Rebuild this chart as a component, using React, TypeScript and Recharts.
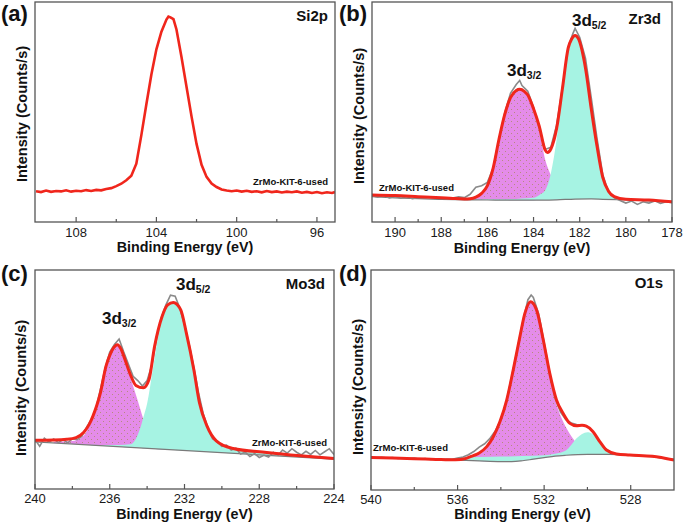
import React from "react";
import { Area, ComposedChart, Line, XAxis, YAxis } from "recharts";

const W = 685;
const H = 526;
const FONT = '"Liberation Sans", Arial, sans-serif';
const RED = "#f0261c";
const GREY = "#8a8a8a";
const BG_LINE = "#7a7a7a";
const PINK = "#e48ce9";
const DOT = "#a98a5e";
const CYAN = "#a6f3e3";
const FRAME = "#555";

type Pt = [number, number];
type Band = [number, number, number]; // energy, background, component top

// (a) Si2p
const SI_RAW: Pt[] = [
  [110.0, 14.0], [109.75, 13.6], [109.5, 14.3], [109.25, 13.7], [109.0, 14.1], [108.75, 13.9],
  [108.5, 14.4], [108.25, 13.8], [108.0, 14.2], [107.75, 14.0], [107.5, 14.5], [107.25, 14.1],
  [107.0, 14.6], [106.75, 14.4], [106.5, 15.0], [106.25, 15.4], [106.0, 16.3], [105.75, 17.4],
  [105.5, 19.0], [105.25, 21.0], [105.0, 26.5], [104.75, 39.5], [104.5, 53.5], [104.25, 67.0],
  [104.0, 78.5], [103.75, 86.5], [103.5, 92.0], [103.4, 93.4], [103.3, 93.0], [103.15, 92.2],
  [103.0, 87.5], [102.75, 75.0], [102.5, 61.5], [102.25, 48.0], [102.0, 35.5], [101.75, 26.0],
  [101.5, 20.5], [101.25, 17.5], [101.0, 15.9], [100.75, 14.8], [100.5, 14.3], [100.25, 14.0],
  [100.0, 14.3], [99.75, 13.8], [99.5, 14.2], [99.25, 13.7], [99.0, 14.0], [98.75, 13.5],
  [98.5, 14.1], [98.25, 13.6], [98.0, 13.9], [97.75, 13.4], [97.5, 13.8], [97.25, 13.5],
  [97.0, 13.9], [96.75, 13.3], [96.5, 13.7], [96.25, 13.2], [96.0, 13.6], [95.75, 13.1],
  [95.5, 13.5], [95.25, 13.2], [95.1, 13.6],
];

// (b) Zr3d
const ZR_RAW: Pt[] = [
  [191.0, 12.0], [190.75, 11.3], [190.5, 12.1], [190.25, 11.0], [190.0, 11.6], [189.75, 10.8],
  [189.5, 11.5], [189.25, 10.6], [189.0, 11.2], [188.75, 10.9], [188.5, 11.4], [188.25, 10.7],
  [188.0, 11.0], [187.75, 10.5], [187.5, 10.9], [187.25, 11.4], [187.0, 11.1], [186.75, 12.6],
  [186.5, 15.8], [186.25, 16.5], [186.0, 18.0], [185.75, 24.5], [185.5, 37.5], [185.25, 49.5],
  [185.0, 58.5], [184.75, 62.5], [184.6, 64.3], [184.5, 62.0], [184.25, 59.5], [184.0, 52.0],
  [183.75, 42.5], [183.5, 33.0], [183.25, 34.0], [183.0, 44.0], [182.75, 61.0], [182.5, 79.5],
  [182.3, 85.5], [182.2, 88.0], [182.0, 84.0], [181.75, 74.5], [181.5, 56.5], [181.25, 38.0],
  [181.0, 21.5], [180.75, 13.5], [180.5, 11.0], [180.25, 9.8], [180.0, 8.6], [179.75, 9.5],
  [179.5, 8.0], [179.25, 9.2], [179.0, 8.6], [178.75, 9.6], [178.5, 8.5], [178.25, 9.2], [178.0, 8.8],
];
const ZR_FIT: Pt[] = [
  [191, 12.3], [190, 12.0], [189, 11.5], [188, 11.0], [187.5, 10.7], [187, 10.5], [186.75, 10.6],
  [186.5, 11.3], [186.25, 13.0], [186, 16.5], [185.75, 24.5], [185.5, 37.5], [185.25, 48.8],
  [185, 56.5], [184.75, 59.8], [184.6, 60.3], [184.4, 59.4], [184.25, 57.7], [184, 51.5],
  [183.75, 43.5], [183.5, 32.8], [183.4, 31.6], [183.25, 33.2], [183, 42.5], [182.75, 60.5],
  [182.5, 79.0], [182.35, 83.2], [182.2, 84.8], [182.05, 83.2], [181.75, 70.0], [181.5, 51.5],
  [181.25, 34.5], [181, 20.3], [180.75, 14.0], [180.5, 11.5], [180, 10.3], [179, 10.0], [178, 9.2],
];
const ZR_BG: Pt[] = [
  [191, 11.5], [190, 11.0], [189, 10.6], [188, 10.3], [187, 10.1], [186, 10.0], [185, 9.9],
  [184, 9.9], [183, 10.1], [182.2, 10.4], [181.5, 10.5], [181, 10.3], [180, 10.0], [179, 9.6], [178, 9.2],
];
const ZR_32: Band[] = [
  [187.5, 10.2, 10.2], [187, 10.1, 10.4], [186.5, 10.0, 11.2], [186.25, 10.0, 13.0], [186, 10.0, 16.5],
  [185.75, 10.0, 24.0], [185.5, 10.0, 37.0], [185.25, 10.0, 48.5], [185, 9.9, 56.3], [184.75, 9.9, 59.6],
  [184.6, 9.9, 60.1], [184.4, 9.9, 59.0], [184.25, 9.9, 57.0], [184, 9.9, 50.4], [183.75, 10.0, 41.2],
  [183.5, 10.0, 28.5], [183.25, 10.0, 21.2], [183, 10.1, 15.1], [182.75, 10.2, 12.0], [182.5, 10.3, 10.8],
  [182, 10.4, 10.4],
];
const ZR_52: Band[] = [
  [187.5, 10.2, 10.2], [186, 10.0, 10.3], [185, 9.9, 10.4], [184.5, 9.9, 10.7], [184, 9.9, 11.0],
  [183.75, 10.0, 12.3], [183.5, 10.0, 14.3], [183.25, 10.0, 22.0], [183, 10.1, 37.5], [182.75, 10.2, 58.5],
  [182.5, 10.3, 78.0], [182.35, 10.4, 82.8], [182.2, 10.4, 84.3], [182.05, 10.4, 82.8], [181.75, 10.5, 69.5],
  [181.5, 10.5, 51.0], [181.25, 10.4, 34.0], [181, 10.3, 20.0], [180.75, 10.2, 13.8], [180.5, 10.1, 11.3],
  [180, 10.0, 10.2], [179, 9.6, 9.7], [178, 9.2, 9.2],
];

// (c) Mo3d
const MO_RAW: Pt[] = [
  [240.0, 22.5], [239.75, 19.5], [239.5, 23.2], [239.25, 21.5], [239.0, 22.8], [238.75, 21.2],
  [238.5, 22.6], [238.25, 21.0], [238.0, 23.0], [237.75, 22.5], [237.5, 24.0], [237.25, 28.0],
  [237.0, 31.5], [236.75, 36.5], [236.5, 45.5], [236.25, 55.0], [236.0, 62.5], [235.75, 66.0],
  [235.5, 68.5], [235.25, 62.5], [235.0, 57.0], [234.75, 51.5], [234.5, 49.5], [234.25, 47.0],
  [234.0, 49.5], [233.75, 56.5], [233.5, 68.5], [233.25, 78.0], [233.0, 84.0], [232.75, 88.5],
  [232.5, 88.0], [232.25, 82.5], [232.0, 75.0], [231.75, 66.0], [231.5, 55.5], [231.25, 44.0],
  [231.0, 34.5], [230.75, 28.0], [230.5, 23.0], [230.25, 21.5], [230.0, 19.5], [229.75, 20.0],
  [229.5, 17.8], [229.25, 18.6], [229.0, 16.0], [228.75, 16.8], [228.5, 14.8], [228.25, 16.2],
  [228.0, 14.4], [227.75, 15.4], [227.5, 14.6], [227.25, 16.8], [227.0, 15.4], [226.75, 17.8],
  [226.5, 16.4], [226.25, 18.4], [226.0, 16.8], [225.75, 15.6], [225.5, 17.2], [225.25, 15.8],
  [225.0, 17.6], [224.75, 15.6], [224.5, 17.0], [224.25, 18.4], [224.0, 15.8],
];
const MO_FIT: Pt[] = [
  [240, 22.3], [239, 22.4], [238.3, 22.7], [237.8, 23.5], [237.4, 25.8], [237.1, 29.5], [236.9, 33.3],
  [236.7, 38.0], [236.5, 43.9], [236.2, 56.1], [236.0, 61.0], [235.8, 64.4], [235.6, 65.9], [235.4, 64.0],
  [235.2, 59.5], [234.9, 52.3], [234.6, 47.3], [234.2, 46.2], [233.9, 50.0], [233.6, 65.2], [233.2, 78.8],
  [232.9, 84.1], [232.6, 85.2], [232.2, 81.8], [231.9, 71.2], [231.5, 54.5], [231.2, 39.4], [230.8, 28.8],
  [230.3, 22.0], [229.4, 18.5], [227.6, 16.7], [225.8, 15.2], [224, 13.9],
];
const MO_BG: Pt[] = [[240, 21.5], [224, 13.6]];
const MO_32: Band[] = [
  [239, 21.0, 21.6], [238, 20.5, 21.9], [237.5, 20.3, 23.5], [237.1, 20.1, 28.5], [236.9, 20.0, 32.5],
  [236.7, 19.9, 37.5], [236.5, 19.8, 43.5], [236.2, 19.6, 55.5], [236.0, 19.5, 60.5], [235.8, 19.4, 64.0],
  [235.6, 19.3, 65.5], [235.4, 19.2, 63.5], [235.2, 19.1, 59.0], [234.9, 19.0, 51.0], [234.6, 18.8, 43.0],
  [234.4, 18.7, 37.5], [234.2, 18.6, 32.0], [234.0, 18.5, 27.5], [233.7, 18.4, 23.0], [233.4, 18.2, 20.0],
  [233.0, 18.0, 18.6], [232.5, 17.8, 17.9],
];
const MO_52: Band[] = [
  [237, 20.0, 20.2], [236, 19.5, 20.1], [235.5, 19.3, 20.1], [234.9, 19.0, 20.4], [234.6, 18.8, 23.0],
  [234.4, 18.7, 27.0], [234.2, 18.6, 32.8], [234.0, 18.5, 39.0], [233.7, 18.4, 54.4], [233.4, 18.2, 70.2],
  [233.2, 18.1, 78.2], [233.0, 18.0, 82.4], [232.8, 17.9, 84.5], [232.6, 17.8, 85.0], [232.4, 17.7, 84.0],
  [232.2, 17.6, 81.6], [231.9, 17.5, 71.0], [231.5, 17.3, 54.5], [231.2, 17.1, 39.4], [230.8, 16.9, 28.8],
  [230.3, 16.7, 22.0], [229.4, 16.2, 18.5], [227.6, 15.4, 16.7], [225.8, 14.5, 15.2], [224, 13.6, 13.9],
];

// (d) O1s
const O_RAW: Pt[] = [
  [540.0, 15.0], [539.75, 14.6], [539.5, 14.9], [539.25, 14.5], [539.0, 14.8], [538.75, 14.3],
  [538.5, 14.6], [538.25, 14.2], [538.0, 14.5], [537.75, 14.0], [537.5, 14.3], [537.25, 13.9],
  [537.0, 14.2], [536.75, 13.8], [536.5, 14.1], [536.25, 14.0], [536.0, 14.5], [535.75, 15.0],
  [535.5, 16.0], [535.25, 17.5], [535.0, 19.5], [534.75, 21.0], [534.5, 23.5], [534.25, 27.0],
  [534.0, 32.0], [533.75, 40.0], [533.5, 51.5], [533.25, 63.5], [533.0, 76.0], [532.75, 86.5],
  [532.6, 88.6], [532.5, 87.5], [532.25, 80.0], [532.0, 67.0], [531.75, 53.5], [531.5, 42.0],
  [531.25, 35.5], [531.0, 32.0], [530.75, 30.5], [530.5, 29.8], [530.25, 29.5], [530.0, 28.8],
  [529.75, 26.5], [529.5, 23.0], [529.25, 19.5], [529.0, 17.5], [528.75, 16.4], [528.5, 16.0],
  [528.25, 15.9], [528.0, 15.8], [527.5, 15.5], [527.0, 15.2], [526.5, 14.5], [526.0, 13.8],
];
const O_FIT: Pt[] = [
  [540, 14.8], [539, 14.5], [538, 14.2], [537, 13.9], [536.1, 13.7], [535.6, 14.4], [535.3, 15.5],
  [535.0, 16.8], [534.65, 19.7], [534.35, 24.2], [534.04, 31.1], [533.73, 40.9], [533.43, 54.5],
  [533.12, 69.7], [532.89, 80.3], [532.63, 85.6], [532.35, 81.8], [532.04, 68.2], [531.74, 53.0],
  [531.43, 40.9], [531.12, 34.8], [530.81, 30.3], [530.51, 29.2], [530.25, 29.4], [530.05, 29.0],
  [529.74, 26.5], [529.43, 22.0], [529.12, 18.2], [528.66, 16.4], [528.05, 15.9], [527, 15.3], [526, 13.6],
];
const O_BG: Pt[] = [
  [540, 14.6], [538, 14.2], [536, 13.6], [535, 13.2], [534, 12.9], [533.5, 12.9], [533, 13.3],
  [532.5, 14.0], [532, 14.7], [531.5, 15.4], [531, 15.8], [530, 16.2], [529, 16.2], [528, 15.9],
  [527, 15.2], [526, 13.8],
];
const O_LATTICE: Band[] = [
  [536.5, 13.4, 13.6], [536, 13.6, 13.9], [535.5, 13.4, 14.4], [535, 13.2, 16.2], [534.65, 13.0, 19.0],
  [534.35, 12.9, 23.5], [534.04, 12.9, 30.5], [533.73, 12.9, 40.5], [533.43, 13.0, 54.0], [533.12, 13.2, 69.3],
  [532.89, 13.5, 80.0], [532.63, 13.9, 85.3], [532.35, 14.3, 81.3], [532.04, 14.7, 67.5], [531.74, 15.1, 52.0],
  [531.43, 15.5, 39.0], [531.12, 15.7, 31.0], [530.81, 15.9, 25.5], [530.51, 16.0, 21.5], [530.2, 16.1, 19.0],
  [529.9, 16.2, 17.5], [529.5, 16.2, 16.6], [529, 16.2, 16.2],
];
const O_METAL: Band[] = [
  [536.5, 13.4, 13.8], [536, 13.6, 14.5], [535, 13.2, 15.0], [534, 12.9, 15.2], [533, 13.3, 15.4],
  [532, 14.7, 15.8], [531.5, 15.4, 16.5], [531, 15.8, 18.0], [530.75, 15.9, 20.5], [530.5, 16.0, 23.5],
  [530.25, 16.1, 25.5], [530, 16.2, 26.2], [529.75, 16.2, 25.3], [529.5, 16.2, 22.5], [529.25, 16.2, 19.5],
  [529, 16.2, 17.5], [528.5, 16.1, 16.4], [528, 15.9, 16.0], [527, 15.2, 15.3], [526, 13.8, 13.9],
];

const SI_TICKS = [108, 106, 104, 102, 100, 98, 96];
const SI_LABELS = [108, 104, 100, 96];
const ZR_TICKS = [190, 189, 188, 187, 186, 185, 184, 183, 182, 181, 180, 179, 178];
const ZR_LABELS = [190, 188, 186, 184, 182, 180, 178];
const MO_TICKS = [240, 238, 236, 234, 232, 230, 228, 226, 224];
const MO_LABELS = [240, 236, 232, 228, 224];
const O_TICKS = [540, 538, 536, 534, 532, 530, 528];
const O_LABELS = [540, 536, 532, 528];

const SAMPLE = "ZrMo-KIT-6-used";

type Box = { x: number; y: number; w: number; h: number };
const BOX_A: Box = { x: 35, y: 2, w: 300, h: 220 };
const BOX_B: Box = { x: 372, y: 2, w: 300, h: 220 };
const BOX_C: Box = { x: 35, y: 270, w: 299, h: 219 };
const BOX_D: Box = { x: 371, y: 270, w: 303, h: 220 };

const toPts = (p: Pt[]) => p.map(([e, v]) => ({ e, v }));
const toBand = (b: Band[]) => b.map(([e, lo, hi]) => ({ e, r: [lo, hi] }));

function EnergyTick({ x, y, payload, labels, gap }: any) {
  const major = labels.includes(payload.value);
  return (
    <g>
      <line x1={x} x2={x} y1={y} y2={y - (major ? 5 : 3)} stroke={FRAME} strokeWidth={1.2} />
      {major && (
        <text x={x} y={y + gap} textAnchor="middle" fontSize={13} fontFamily={FONT} fill="#1a1a1a">
          {payload.value}
        </text>
      )}
    </g>
  );
}

type PanelProps = {
  id: string;
  box: Box;
  domain: [number, number];
  ticks: number[];
  labels: number[];
  gap: number;
  raw: Pt[];
  rawColor: string;
  rawWidth: number;
  fit?: Pt[];
  bg?: Pt[];
  peakA?: Band[];
  peakB?: Band[];
};

function Panel({ id, box, domain, ticks, labels, gap, raw, rawColor, rawWidth, fit, bg, peakA, peakB }: PanelProps) {
  return (
    <div style={{ position: "absolute", left: 0, top: 0 }}>
      <ComposedChart
        width={W}
        height={H}
        margin={{ top: box.y, left: box.x, right: W - box.x - box.w, bottom: 0 }}
      >
        <defs>
          <pattern id={`dots-${id}`} width={6} height={6} patternUnits="userSpaceOnUse">
            <rect width={6} height={6} fill={PINK} />
            <circle cx={1.5} cy={1.5} r={0.5} fill={DOT} />
            <circle cx={4.5} cy={4.5} r={0.5} fill={DOT} />
          </pattern>
        </defs>
        <XAxis
          type="number"
          dataKey="e"
          domain={domain}
          reversed
          allowDataOverflow
          ticks={ticks}
          interval={0}
          height={H - box.y - box.h}
          axisLine={false}
          tickLine={false}
          tickSize={0}
          tickMargin={0}
          tick={(p: any) => <EnergyTick {...p} labels={labels} gap={gap} />}
        />
        <YAxis hide type="number" domain={[0, 100]} allowDataOverflow />
        {peakA && (
          <Area data={toBand(peakA)} dataKey="r" type="monotone" fill={`url(#dots-${id})`} fillOpacity={1}
            stroke="none" isAnimationActive={false} />
        )}
        {peakB && (
          <Area data={toBand(peakB)} dataKey="r" type="monotone" fill={CYAN} fillOpacity={1}
            stroke="none" isAnimationActive={false} />
        )}
        {bg && (
          <Line data={toPts(bg)} dataKey="v" type="monotone" stroke={BG_LINE} strokeWidth={1.2}
            dot={false} isAnimationActive={false} />
        )}
        <Line data={toPts(raw)} dataKey="v" type="linear" stroke={rawColor} strokeWidth={rawWidth}
          dot={false} isAnimationActive={false} />
        {fit && (
          <Line data={toPts(fit)} dataKey="v" type="monotone" stroke={RED} strokeWidth={3}
            dot={false} isAnimationActive={false} />
        )}
      </ComposedChart>
    </div>
  );
}

function Sub({ x, y, main, sub }: { x: number; y: number; main: string; sub: string }) {
  return (
    <text x={x} y={y} fontSize={17} fontWeight="bold" fontFamily={FONT} fill="#111">
      {main}
      <tspan fontSize={10.5} dy={3}>{sub}</tspan>
    </text>
  );
}

function Frame({ box, ytitle, xtitleY }: { box: Box; ytitle: [number, number]; xtitleY: number }) {
  const cx = box.x + box.w / 2;
  return (
    <g>
      <rect x={box.x} y={box.y} width={box.w} height={box.h} fill="none" stroke={FRAME} strokeWidth={1.3} />
      <text
        x={ytitle[0]}
        y={ytitle[1]}
        transform={`rotate(-90 ${ytitle[0]} ${ytitle[1]})`}
        textAnchor="middle"
        fontSize={14.6}
        fontWeight="bold"
        fontFamily={FONT}
        fill="#111"
      >
        Intensity (Counts/s)
      </text>
      <text x={cx} y={xtitleY} textAnchor="middle" fontSize={14.3} fontWeight="bold" fontFamily={FONT} fill="#111">
        Binding Energy (eV)
      </text>
    </g>
  );
}

export default function App() {
  const bold = { fontWeight: "bold" as const, fontFamily: FONT, fill: "#111" };
  return (
    <div style={{ position: "absolute", left: 0, top: 0, width: W, height: H, background: "#fff" }}>
      <Panel id="a" box={BOX_A} domain={[95.1, 110.05]} ticks={SI_TICKS} labels={SI_LABELS} gap={15}
        raw={SI_RAW} rawColor={RED} rawWidth={2.6} />
      <Panel id="b" box={BOX_B} domain={[178, 191]} ticks={ZR_TICKS} labels={ZR_LABELS} gap={15}
        raw={ZR_RAW} rawColor={GREY} rawWidth={1.6} fit={ZR_FIT} bg={ZR_BG} peakA={ZR_32} peakB={ZR_52} />
      <Panel id="c" box={BOX_C} domain={[224, 240]} ticks={MO_TICKS} labels={MO_LABELS} gap={14}
        raw={MO_RAW} rawColor={GREY} rawWidth={1.6} fit={MO_FIT} bg={MO_BG} peakA={MO_32} peakB={MO_52} />
      <Panel id="d" box={BOX_D} domain={[526, 540]} ticks={O_TICKS} labels={O_LABELS} gap={13.5}
        raw={O_RAW} rawColor={GREY} rawWidth={1.6} fit={O_FIT} bg={O_BG} peakA={O_LATTICE} peakB={O_METAL} />
      <svg width={W} height={H} style={{ position: "absolute", left: 0, top: 0, pointerEvents: "none" }}>
        <Frame box={BOX_A} ytitle={[27, 114]} xtitleY={252} />
        <Frame box={BOX_B} ytitle={[364, 116]} xtitleY={253} />
        <Frame box={BOX_C} ytitle={[26, 388]} xtitleY={519} />
        <Frame box={BOX_D} ytitle={[363, 387]} xtitleY={519} />

        <text x={1} y={21} fontSize={22} {...bold}>(a)</text>
        <text x={339} y={21} fontSize={22} {...bold}>(b)</text>
        <text x={1} y={281} fontSize={22} {...bold}>(c)</text>
        <text x={339} y={281} fontSize={22} {...bold}>(d)</text>

        <text x={328} y={21} fontSize={15} textAnchor="end" {...bold}>Si2p</text>
        <text x={661} y={24} fontSize={15} textAnchor="end" {...bold}>Zr3d</text>
        <text x={325} y={289} fontSize={15} textAnchor="end" {...bold}>Mo3d</text>
        <text x={663} y={288} fontSize={15} textAnchor="end" {...bold}>O1s</text>

        <Sub x={572} y={26} main="3d" sub="5/2" />
        <Sub x={507} y={76} main="3d" sub="3/2" />
        <Sub x={176} y={290} main="3d" sub="5/2" />
        <Sub x={102} y={324} main="3d" sub="3/2" />

        <text x={328} y={185} fontSize={9.5} textAnchor="end" {...bold}>{SAMPLE}</text>
        <text x={379} y={191} fontSize={9.5} {...bold}>{SAMPLE}</text>
        <text x={327} y={446} fontSize={9.5} textAnchor="end" {...bold}>{SAMPLE}</text>
        <text x={373} y={451} fontSize={9.5} {...bold}>{SAMPLE}</text>
      </svg>
    </div>
  );
}
